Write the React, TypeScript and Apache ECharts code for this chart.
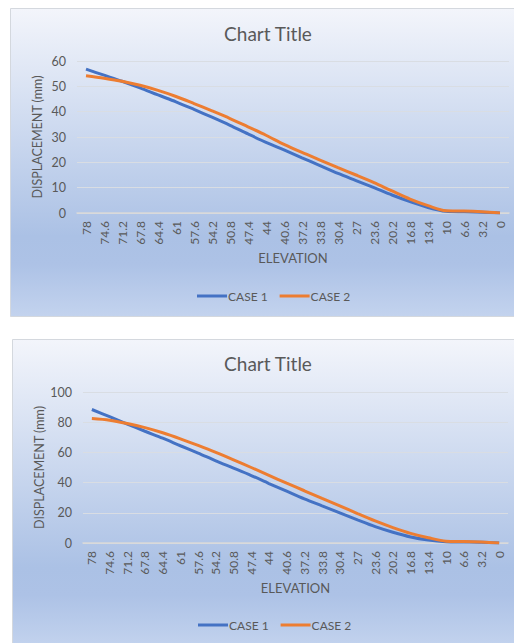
import React, { useEffect, useRef } from 'react';
import * as echarts from 'echarts';

const elevations = ['78', '74.6', '71.2', '67.8', '64.4', '61', '57.6', '54.2', '50.8', '47.4', '44', '40.6', '37.2', '33.8', '30.4', '27', '23.6', '20.2', '16.8', '13.4', '10', '6.6', '3.2', '0'];

const chart1Case1 = [56.8, 54.4, 52.0, 49.4, 46.6, 43.9, 40.9, 37.8, 34.6, 31.2, 27.9, 24.9, 21.8, 18.7, 15.6, 12.8, 10.0, 7.1, 4.5, 2.2, 0.7, 0.5, 0.3, 0];
const chart1Case2 = [54.2, 53.2, 52.0, 50.4, 48.4, 46.0, 43.2, 40.3, 37.3, 34.0, 30.7, 27.1, 23.9, 20.9, 17.9, 15.0, 12.0, 8.7, 5.5, 2.9, 0.9, 0.8, 0.5, 0];

const chart2Case1 = [88.4, 83.7, 78.8, 74.0, 69.4, 64.4, 59.5, 54.4, 49.6, 44.7, 39.4, 34.3, 29.2, 24.6, 20.0, 15.3, 10.8, 7.1, 4.0, 2.0, 0.9, 0.7, 0.5, 0];
const chart2Case2 = [82.4, 81.3, 79.1, 76.4, 73.0, 69.0, 64.6, 60.0, 55.1, 50.0, 44.8, 39.6, 34.6, 29.5, 24.6, 19.5, 14.6, 10.2, 6.4, 3.5, 1.2, 1.0, 0.6, 0];

const seriesNames = ['CASE 1', 'CASE 2'];
const titleText = 'Chart Title';
const yAxisName = 'DISPLACEMENT (mm)';
const xAxisName = 'ELEVATION';
const chart1YMax = 60;
const chart1YInterval = 10;
const chart2YMax = 100;
const chart2YInterval = 20;

const FONT = 'Lato, "Noto Sans", sans-serif';
const TEXT = '#595959';

type Cfg = {
  w: number;
  h: number;
  bgH: number;
  titleX: number;
  titleY: number;
  grid: { left: number; right: number; top: number; bottom: number };
  yMax: number;
  yInterval: number;
  yNameGap: number;
  xNameGap: number;
  legendLeft: number;
  legendTop: number;
  case1: number[];
  case2: number[];
};

function makeOption(c: Cfg): any {
  return {
    animation: false,
    graphic: {
      elements: [
        {
          type: 'rect',
          z: -10,
          silent: true,
          shape: { x: 0.5, y: 0.5, width: c.w + 20, height: c.bgH - 1 },
          style: {
            fill: new echarts.graphic.LinearGradient(0, 0, 0, 1, [
              { offset: 0, color: '#f3f5fb' },
              { offset: 0.74, color: '#abc1e5' },
              { offset: 0.83, color: '#adc2e6' },
              { offset: 1, color: '#c3d3ee' },
            ]),
            stroke: '#d4d8de',
            lineWidth: 1,
          },
        },
        {
          type: 'text',
          x: c.titleX,
          y: c.titleY,
          style: {
            text: titleText,
            fill: TEXT,
            font: `19px ${FONT}`,
            textAlign: 'center',
            textVerticalAlign: 'middle',
          },
        },
      ],
    },
    grid: c.grid,
    legend: {
      data: seriesNames,
      left: c.legendLeft,
      top: c.legendTop,
      padding: 0,
      icon: 'rect',
      itemWidth: 30,
      itemHeight: 3,
      itemGap: 12,
      textStyle: { color: TEXT, fontSize: 12, fontFamily: FONT, padding: [0, 0, 0, -4] },
    },
    xAxis: {
      type: 'category',
      data: elevations,
      boundaryGap: true,
      name: xAxisName,
      nameLocation: 'middle',
      nameGap: c.xNameGap,
      nameMoveOverlap: false,
      nameTextStyle: { color: TEXT, fontSize: 13, fontFamily: FONT },
      axisLine: { show: true, lineStyle: { color: '#d9d9d9', width: 1.5 } },
      axisTick: { show: false },
      axisLabel: { rotate: 90, interval: 0, color: TEXT, fontSize: 12, fontFamily: FONT, margin: 8 },
      splitLine: { show: false },
    },
    yAxis: {
      type: 'value',
      min: 0,
      max: c.yMax,
      interval: c.yInterval,
      name: yAxisName,
      nameLocation: 'middle',
      nameGap: c.yNameGap,
      nameMoveOverlap: false,
      nameTextStyle: { color: TEXT, fontSize: 12.5, fontFamily: FONT },
      axisLine: { show: false },
      axisTick: { show: false },
      axisLabel: { color: TEXT, fontSize: 12.5, fontFamily: FONT, margin: 11 },
      splitLine: { lineStyle: { color: '#d9dde3', width: 1.2 } },
    },
    series: [
      {
        name: seriesNames[0],
        type: 'line',
        data: c.case1,
        smooth: 0.3,
        showSymbol: false,
        lineStyle: { color: '#4472c4', width: 3 },
        itemStyle: { color: '#4472c4' },
        z: 3,
      },
      {
        name: seriesNames[1],
        type: 'line',
        data: c.case2,
        smooth: 0.3,
        showSymbol: false,
        lineStyle: { color: '#ed7d31', width: 3 },
        itemStyle: { color: '#ed7d31' },
        z: 4,
      },
    ],
  };
}

function Chart({ cfg, style }: { cfg: Cfg; style: React.CSSProperties }) {
  const ref = useRef<HTMLDivElement>(null);
  useEffect(() => {
    if (!ref.current) return;
    const chart = echarts.init(ref.current, undefined, { renderer: 'svg' });
    chart.setOption(makeOption(cfg));
    return () => chart.dispose();
  }, [cfg]);
  return <div ref={ref} style={{ position: 'absolute', width: cfg.w, height: cfg.h, ...style }} />;
}

const cfg1: Cfg = {
  w: 504,
  h: 309,
  bgH: 309,
  titleX: 258,
  titleY: 25,
  grid: { left: 67, right: 5, top: 53, bottom: 104 },
  yMax: chart1YMax,
  yInterval: chart1YInterval,
  yNameGap: 33,
  xNameGap: 38,
  legendLeft: 187,
  legendTop: 282,
  case1: chart1Case1,
  case2: chart1Case2,
};

const cfg2: Cfg = {
  w: 502,
  h: 304,
  bgH: 309,
  titleX: 256,
  titleY: 24,
  grid: { left: 71, right: 6, top: 53, bottom: 100 },
  yMax: chart2YMax,
  yInterval: chart2YInterval,
  yNameGap: 37,
  xNameGap: 38,
  legendLeft: 186,
  legendTop: 280,
  case1: chart2Case1,
  case2: chart2Case2,
};

export default function App() {
  return (
    <div style={{ position: 'fixed', left: 0, top: 0, width: 514, height: 643, overflow: 'hidden', background: '#ffffff' }}>
      <Chart cfg={cfg1} style={{ left: 10, top: 8 }} />
      <Chart cfg={cfg2} style={{ left: 12, top: 339 }} />
    </div>
  );
}
